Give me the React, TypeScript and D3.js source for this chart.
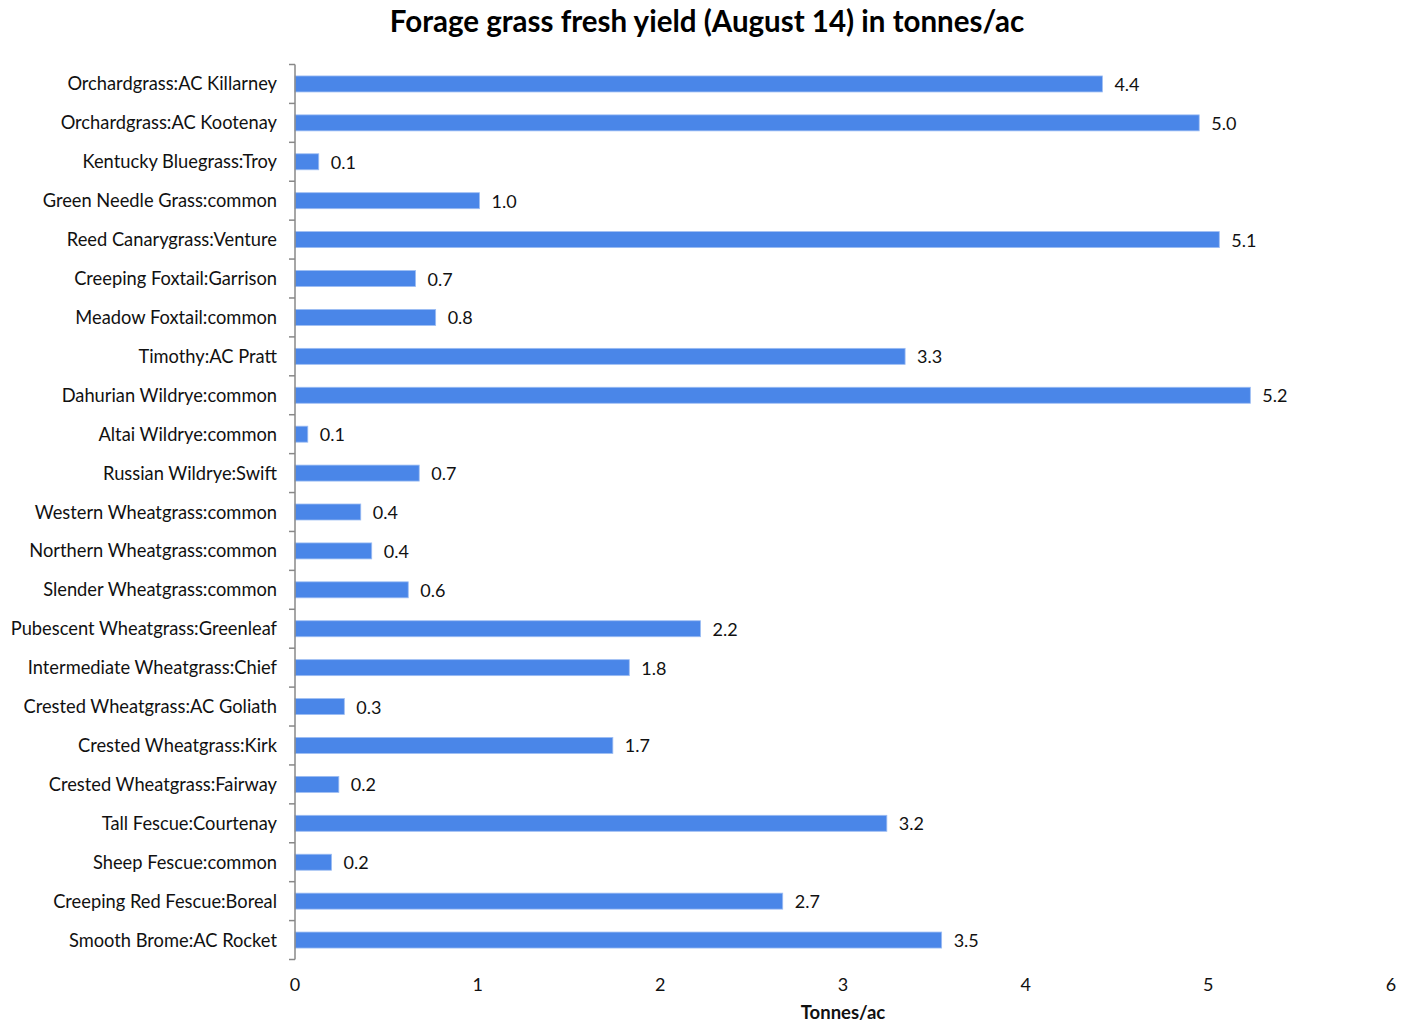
import React from "react";
import * as d3 from "d3";

const categories = [
  "Orchardgrass:AC Killarney",
  "Orchardgrass:AC Kootenay",
  "Kentucky Bluegrass:Troy",
  "Green Needle Grass:common",
  "Reed Canarygrass:Venture",
  "Creeping Foxtail:Garrison",
  "Meadow Foxtail:common",
  "Timothy:AC Pratt",
  "Dahurian Wildrye:common",
  "Altai Wildrye:common",
  "Russian Wildrye:Swift",
  "Western Wheatgrass:common",
  "Northern Wheatgrass:common",
  "Slender Wheatgrass:common",
  "Pubescent Wheatgrass:Greenleaf",
  "Intermediate Wheatgrass:Chief",
  "Crested Wheatgrass:AC Goliath",
  "Crested Wheatgrass:Kirk",
  "Crested Wheatgrass:Fairway",
  "Tall Fescue:Courtenay",
  "Sheep Fescue:common",
  "Creeping Red Fescue:Boreal",
  "Smooth Brome:AC Rocket",
];

const values = [
  4.42, 4.95, 0.13, 1.01, 5.06, 0.66, 0.77, 3.34, 5.23, 0.07, 0.68, 0.36, 0.42,
  0.62, 2.22, 1.83, 0.27, 1.74, 0.24, 3.24, 0.2, 2.67, 3.54,
];

const xTicks = [0, 1, 2, 3, 4, 5, 6];

const W = 1411;
const H = 1023;
const left = 295;
const right = 1391;
const top = 64.5;
const bottom = 959.5;
const FONT = "Lato, 'Open Sans', sans-serif";

export default function App() {
  const x = d3.scaleLinear().domain([0, 6]).range([left, right]);
  const y = d3
    .scaleBand<string>()
    .domain(categories)
    .range([top, bottom])
    .paddingInner(0.59)
    .paddingOuter(0.295);
  const step = y.step();
  const bh = 16;
  const boundaries = d3.range(categories.length + 1).map((i) => top + i * step);

  return (
    <svg width={W} height={H} style={{ display: "block", position: "absolute", left: 0, top: 0 }}>
      <rect width={W} height={H} fill="#fff" />
      <text x={707} y={32} textAnchor="middle" fontFamily={FONT} fontWeight="bold" fontSize={29.5} fill="#000">
        Forage grass fresh yield (August 14) in tonnes/ac
      </text>
      {categories.map((c, i) => {
        const cy = top + (i + 0.5) * step;
        return (
          <g key={c}>
            <rect
              x={x(0)}
              y={cy - bh / 2}
              width={x(values[i]) - x(0)}
              height={bh}
              fill="#4A86E8"
              stroke="#9dbdf3"
              strokeWidth={0.8}
            />
            <text x={x(values[i]) + 12} y={cy + 7} fontFamily={FONT} fontSize={18} fill="#111">
              {values[i].toFixed(1)}
            </text>
            <text x={277} y={cy + 6.5} textAnchor="end" fontFamily={FONT} fontSize={18.3} fill="#111">
              {c}
            </text>
          </g>
        );
      })}
      <line x1={left} x2={left} y1={top} y2={bottom} stroke="#888" strokeWidth={1.5} />
      {boundaries.map((b, i) => (
        <line key={i} x1={left - 6} x2={left} y1={b} y2={b} stroke="#888" strokeWidth={1.5} />
      ))}
      {xTicks.map((t) => (
        <text key={t} x={x(t)} y={991} textAnchor="middle" fontFamily={FONT} fontSize={18} fill="#111">
          {t}
        </text>
      ))}
      <text x={843} y={1019} textAnchor="middle" fontFamily={FONT} fontWeight="bold" fontSize={18.5} fill="#111">
        Tonnes/ac
      </text>
    </svg>
  );
}
